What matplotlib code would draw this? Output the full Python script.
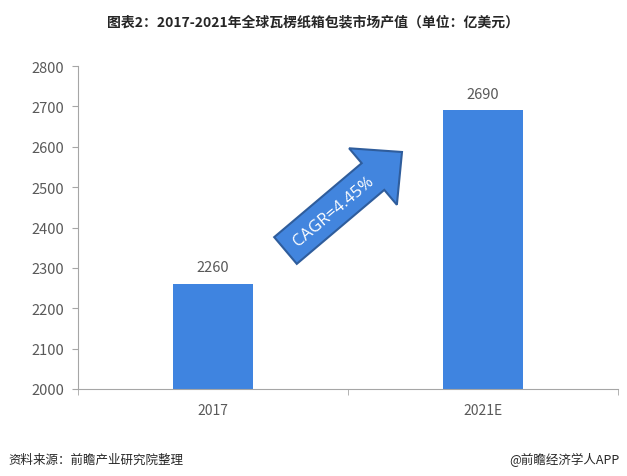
import matplotlib.pyplot as plt
from matplotlib.patches import FancyArrow
from matplotlib.transforms import IdentityTransform

plt.rcParams['font.family'] = ['Noto Sans CJK SC', 'DejaVu Sans']

years = ["2017", "2021E"]
values = [2260, 2690]
cagr_label = "CAGR=4.45%"
title = "图表2：2017-2021年全球瓦楞纸箱包装市场产值（单位：亿美元）"
source = "资料来源：前瞻产业研究院整理"
brand = "@前瞻经济学人APP"

BAR = '#3F84E0'
TXT = '#595959'
AXIS = '#A6A6A6'

fig = plt.figure(figsize=(6.27, 4.77), dpi=100)
ax = fig.add_axes([0.1244, 0.1824, 0.8612, 0.6771])

x = range(len(years))
bars = ax.bar(x, values, width=0.296, color=BAR, zorder=2)
for b, v in zip(bars, values):
    ax.annotate(f'{v}', xy=(b.get_x() + b.get_width() / 2, v),
                xytext=(0, 7), textcoords='offset points',
                ha='center', va='bottom', color=TXT, fontsize=10.5)

ax.set_xlim(-0.5, len(years) - 0.5)
ax.set_ylim(2000, 2800)
ax.set_yticks(range(2000, 2801, 100))
ax.set_xticks(list(x))
ax.set_xticklabels(years)
ax.set_xticks([i - 0.5 for i in range(len(years) + 1)], minor=True)
ax.tick_params(axis='x', which='major', length=0, pad=10, labelcolor=TXT, labelsize=10)
ax.tick_params(axis='x', which='minor', length=4, color=AXIS, direction='out')
ax.tick_params(axis='y', length=4, color=AXIS, labelcolor=TXT, labelsize=10.5, pad=6)

for s in ['top', 'right']:
    ax.spines[s].set_visible(False)
ax.spines['left'].set_color(AXIS)
ax.spines['bottom'].set_color(AXIS)

# CAGR arrow (pixel coordinates of the figure)
H = 477
arrow = FancyArrow(285.5, H - 251.5, 116.5, 98.5, width=35, head_width=74,
                   head_length=38, length_includes_head=True,
                   facecolor='#4285DE', edgecolor='#2F5D9C', linewidth=1.5,
                   transform=IdentityTransform(), zorder=5)
fig.patches.append(arrow)
fig.text(334 / 627, 1 - 212 / H, cagr_label, rotation=40, color='white',
         fontsize=12, ha='center', va='center', zorder=6, family='Open Sans')

fig.text(0.5, 1 - 22 / H, title, ha='center', va='center', fontsize=10,
         fontweight='bold', color='#262626')
fig.text(8 / 627, 1 - 460 / H, source, ha='left', va='center', fontsize=9,
         style='italic', color='#262626')
fig.text(620 / 627, 1 - 460 / H, brand, ha='right', va='center', fontsize=9,
         color='#262626')

plt.savefig('out.png', dpi=100, facecolor='white')
plt.close()
